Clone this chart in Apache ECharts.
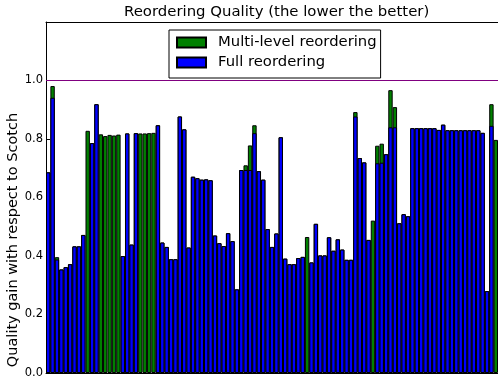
<!DOCTYPE html>
<html>
<head>
<meta charset="utf-8">
<script src="https://cdn.jsdelivr.net/npm/echarts@6/dist/echarts.min.js"></script>
<style>
  html, body { margin: 0; padding: 0; background: #fff; }
  #chart { width: 498px; height: 379px; }
</style>
</head>
<body>
<div id="chart"></div>
<script>
// one bar per test graph
var graphs = [];
for (var i = 1; i <= 103; i++) graphs.push(String(i));

var multiLevel = [
  0.686, 0.981, 0.396, 0.354, 0.362, 0.372, 0.433, 0.433, 0.472, 0.828,
  0.786, 0.919, 0.816, 0.810, 0.814, 0.812, 0.815, 0.400, 0.819, 0.439,
  0.820, 0.819, 0.819, 0.820, 0.821, 0.847, 0.446, 0.431, 0.389, 0.389,
  0.877, 0.833, 0.429, 0.671, 0.666, 0.661, 0.662, 0.659, 0.470, 0.444,
  0.434, 0.478, 0.451, 0.286, 0.694, 0.710, 0.778, 0.847, 0.690, 0.661,
  0.492, 0.431, 0.477, 0.806, 0.391, 0.372, 0.372, 0.393, 0.397, 0.465,
  0.378, 0.510, 0.402, 0.402, 0.464, 0.418, 0.457, 0.422, 0.387, 0.387,
  0.892, 0.735, 0.720, 0.455, 0.521, 0.777, 0.784, 0.748, 0.967, 0.909,
  0.512, 0.543, 0.536, 0.837, 0.837, 0.837, 0.837, 0.837, 0.837, 0.831,
  0.849, 0.830, 0.830, 0.830, 0.830, 0.830, 0.830, 0.830, 0.830, 0.821,
  0.280, 0.919, 0.797
];

var fullReorder = [
  0.686, 0.941, 0.388, 0.354, 0.362, 0.372, 0.433, 0.433, 0.472, null,
  0.786, 0.919, null, null, null, null, null, 0.400, 0.819, 0.439,
  0.820, null, null, null, null, 0.847, 0.446, 0.431, 0.389, 0.389,
  0.877, 0.833, 0.429, 0.671, 0.666, 0.661, 0.662, 0.659, 0.470, 0.444,
  0.434, 0.478, 0.451, 0.286, 0.694, 0.694, 0.694, 0.820, 0.690, 0.661,
  0.492, 0.431, 0.477, 0.806, 0.391, 0.372, 0.372, 0.393, 0.397, null,
  0.378, 0.510, 0.402, 0.402, 0.464, 0.418, 0.457, 0.422, 0.387, 0.387,
  0.877, 0.735, 0.720, 0.455, null, 0.717, 0.719, 0.748, 0.840, 0.840,
  0.512, 0.543, 0.536, 0.837, 0.837, 0.837, 0.837, 0.837, 0.837, 0.831,
  0.849, 0.830, 0.830, 0.830, 0.830, 0.830, 0.830, 0.830, 0.830, 0.821,
  0.280, 0.845, null
];

var font = 'DejaVu Sans';
var chart = echarts.init(document.getElementById('chart'));

var option = {
  animation: false,
  title: {
    text: 'Reordering Quality (the lower the better)',
    left: 124,
    top: 5,
    padding: 0,
    textStyle: { fontFamily: font, fontSize: 14.9, fontWeight: 'normal', color: '#000' }
  },
  legend: {
    data: ['Multi-level reordering', 'Full reordering'],
    orient: 'vertical',
    left: 169,
    top: 30,
    icon: 'rect',
    itemWidth: 29,
    itemHeight: 10,
    itemGap: 5,
    padding: [5, 4, 8, 7],
    backgroundColor: '#fff',
    borderColor: '#000',
    borderWidth: 1,
    borderRadius: 0,
    textStyle: { fontFamily: font, fontSize: 14.8, color: '#000', padding: [0, 0, 0, 7] }
  },
  graphic: [{
    type: 'text',
    x: 13,
    y: 240,
    rotation: Math.PI / 2,
    style: {
      text: 'Quality gain with respect to Scotch',
      font: '14.5px "DejaVu Sans"',
      fill: '#000',
      align: 'center',
      verticalAlign: 'middle'
    }
  }],
  grid: { left: 46, right: 0, top: 22, bottom: 4 },
  xAxis: [{
    type: 'category',
    data: graphs,
    axisLine: { lineStyle: { color: '#000', width: 1 } },
    axisTick: { show: false },
    axisLabel: { show: false }
  }, {
    type: 'category',
    data: graphs,
    position: 'top',
    axisLine: { lineStyle: { color: '#000', width: 1 } },
    axisTick: { show: false },
    axisLabel: { show: false }
  }],
  yAxis: {
    type: 'value',
    min: 0,
    max: 1.2,
    interval: 0.2,
    axisLine: { show: true, lineStyle: { color: '#000', width: 1 } },
    axisTick: { show: true, inside: true, length: 4, lineStyle: { color: '#000' } },
    splitLine: { show: false },
    axisLabel: {
      margin: 3,
      fontFamily: font,
      fontSize: 11.5,
      color: '#000',
      formatter: function (v) { return v > 1.1 ? '' : v.toFixed(1); }
    }
  },
  series: [{
    name: 'Multi-level reordering',
    type: 'bar',
    data: multiLevel,
    barGap: '-100%',
    barCategoryGap: '0%',
    itemStyle: { color: '#008000', borderColor: '#000', borderWidth: 1 }
  }, {
    name: 'Full reordering',
    type: 'bar',
    data: fullReorder,
    barGap: '-100%',
    barCategoryGap: '0%',
    itemStyle: { color: '#0000ff', borderColor: '#000', borderWidth: 1 },
    markLine: {
      silent: true,
      symbol: 'none',
      label: { show: false },
      lineStyle: { color: '#800080', width: 1, type: 'solid' },
      data: [{ yAxis: 1.0 }]
    }
  }]
};

chart.setOption(option);
</script>
</body>
</html>
